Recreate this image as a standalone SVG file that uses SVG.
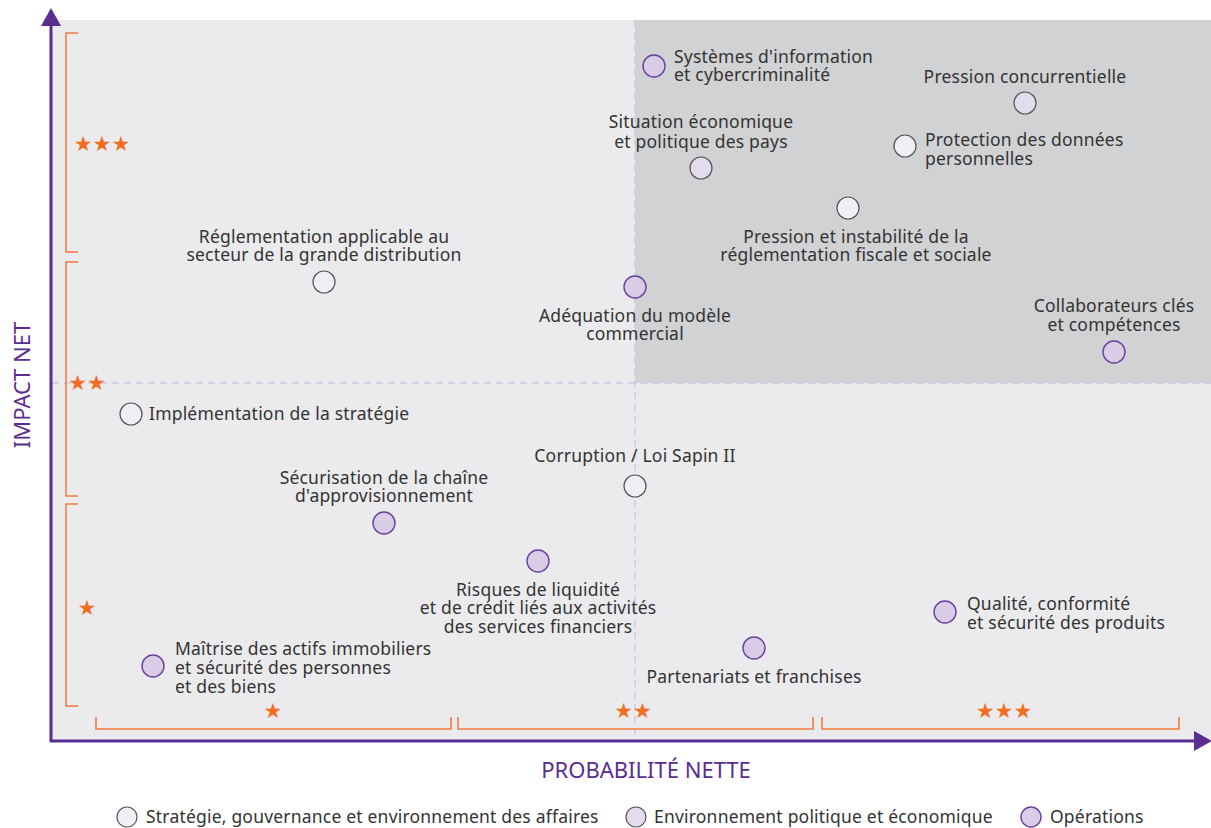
<svg xmlns="http://www.w3.org/2000/svg" width="1211" height="828" viewBox="0 0 1211 828">
<style>
.t{font-family:"Noto Sans",Lato,"Liberation Sans",sans-serif;font-size:17.5px;letter-spacing:0.2px;fill:#333;}
.c{text-anchor:middle;}
.ax{font-family:"Noto Sans",Lato,"Liberation Sans",sans-serif;font-size:22px;fill:#5b2d91;}
.st{font-family:"DejaVu Sans",sans-serif;font-size:21px;fill:#f26d21;}
.br{fill:none;stroke:#f47b3f;stroke-width:1.6;}
.dash{stroke:#cfc6e3;stroke-width:1.5;stroke-dasharray:7 5;fill:none;}
.s{fill:#f1eff5;stroke:#555;stroke-width:1.2;}
.p{fill:#e3dcec;stroke:#555;stroke-width:1.2;}
.o{fill:#d9cde6;stroke:#6a3fa0;stroke-width:1.4;}
</style>
<rect x="0" y="0" width="1211" height="828" fill="#fff"/>
<g id="background">
<rect x="52" y="20" width="1159" height="721" fill="#ebebed"/>
<rect x="635" y="20" width="576" height="363" fill="#d1d2d4"/>
<line class="dash" x1="52" y1="383" x2="1211" y2="383"/>
<line class="dash" x1="635" y1="20" x2="635" y2="741"/>
</g>
<g id="axes">
<line x1="51" y1="24" x2="51" y2="742" stroke="#5b2d91" stroke-width="3"/>
<polygon points="41,26 61,26 51,8" fill="#5b2d91"/>
<line x1="50" y1="741" x2="1196" y2="741" stroke="#5b2d91" stroke-width="3"/>
<polygon points="1194,731 1194,751 1212,741" fill="#5b2d91"/>
<text class="ax" transform="translate(30,385) rotate(-90)" text-anchor="middle">IMPACT NET</text>
<text class="ax" x="646" y="778" text-anchor="middle">PROBABILITÉ NETTE</text>
</g>
<g id="scales">
<path class="br" d="M78,33 H66 V252 H78"/>
<path class="br" d="M78,262 H66 V496 H78"/>
<path class="br" d="M78,504 H66 V706 H78"/>
<text class="st" x="102" y="151" text-anchor="middle">★★★</text>
<text class="st" x="87" y="390" text-anchor="middle">★★</text>
<text class="st" x="87" y="615" text-anchor="middle">★</text>
<path class="br" d="M96,717 V729 H451 V717"/>
<path class="br" d="M458,717 V729 H813 V717"/>
<path class="br" d="M822,717 V729 H1179 V717"/>
<text class="st" x="273" y="718" text-anchor="middle">★</text>
<text class="st" x="633" y="718" text-anchor="middle">★★</text>
<text class="st" x="1004" y="718" text-anchor="middle">★★★</text>
</g>
<g id="connectors"></g>
<g id="n1"><circle class="o" cx="654" cy="66" r="11"/><text class="t" x="674" y="63">Systèmes d'information</text><text class="t" x="674" y="81">et cybercriminalité</text></g>
<g id="n2"><circle class="p" cx="1025" cy="103" r="11"/><text class="t c" x="1025" y="83">Pression concurrentielle</text></g>
<g id="n3"><circle class="s" cx="905" cy="146" r="11"/><text class="t" x="925" y="146">Protection des données</text><text class="t" x="925" y="165">personnelles</text></g>
<g id="n4"><circle class="p" cx="701" cy="168" r="11"/><text class="t c" x="701" y="128">Situation économique</text><text class="t c" x="701" y="148">et politique des pays</text></g>
<g id="n5"><circle class="s" cx="848" cy="208" r="11"/><text class="t c" x="856" y="243">Pression et instabilité de la</text><text class="t c" x="856" y="261">réglementation fiscale et sociale</text></g>
<g id="n6"><circle class="s" cx="324" cy="282" r="11"/><text class="t c" x="324" y="243">Réglementation applicable au</text><text class="t c" x="324" y="261">secteur de la grande distribution</text></g>
<g id="n7"><circle class="o" cx="635" cy="287" r="11"/><text class="t c" x="635" y="322">Adéquation du modèle</text><text class="t c" x="635" y="340">commercial</text></g>
<g id="n8"><circle class="o" cx="1114" cy="352" r="11"/><text class="t c" x="1114" y="312">Collaborateurs clés</text><text class="t c" x="1114" y="331">et compétences</text></g>
<g id="n9"><circle class="s" cx="131" cy="414" r="11"/><text class="t" x="149" y="420">Implémentation de la stratégie</text></g>
<g id="n10"><circle class="s" cx="635" cy="486" r="11"/><text class="t c" x="635" y="462">Corruption / Loi Sapin II</text></g>
<g id="n11"><circle class="o" cx="384" cy="523" r="11"/><text class="t c" x="384" y="484">Sécurisation de la chaîne</text><text class="t c" x="384" y="502">d'approvisionnement</text></g>
<g id="n12"><circle class="o" cx="538" cy="561" r="11"/><text class="t c" x="538" y="596">Risques de liquidité</text><text class="t c" x="538" y="614">et de crédit liés aux activités</text><text class="t c" x="538" y="633">des services financiers</text></g>
<g id="n13"><circle class="o" cx="945" cy="612" r="11"/><text class="t" x="967" y="610">Qualité, conformité</text><text class="t" x="967" y="629">et sécurité des produits</text></g>
<g id="n14"><circle class="o" cx="754" cy="648" r="11"/><text class="t c" x="754" y="683">Partenariats et franchises</text></g>
<g id="n15"><circle class="o" cx="153" cy="666" r="11"/><text class="t" x="175" y="655">Maîtrise des actifs immobiliers</text><text class="t" x="175" y="674">et sécurité des personnes</text><text class="t" x="175" y="693">et des biens</text></g>
<g id="legend">
<circle class="s" cx="127" cy="817" r="10"/><text class="t" x="146" y="823">Stratégie, gouvernance et environnement des affaires</text>
<circle class="p" cx="636" cy="817" r="10"/><text class="t" x="654" y="823">Environnement politique et économique</text>
<circle class="o" cx="1031" cy="817" r="10"/><text class="t" x="1050" y="823">Opérations</text>
</g>
</svg>
